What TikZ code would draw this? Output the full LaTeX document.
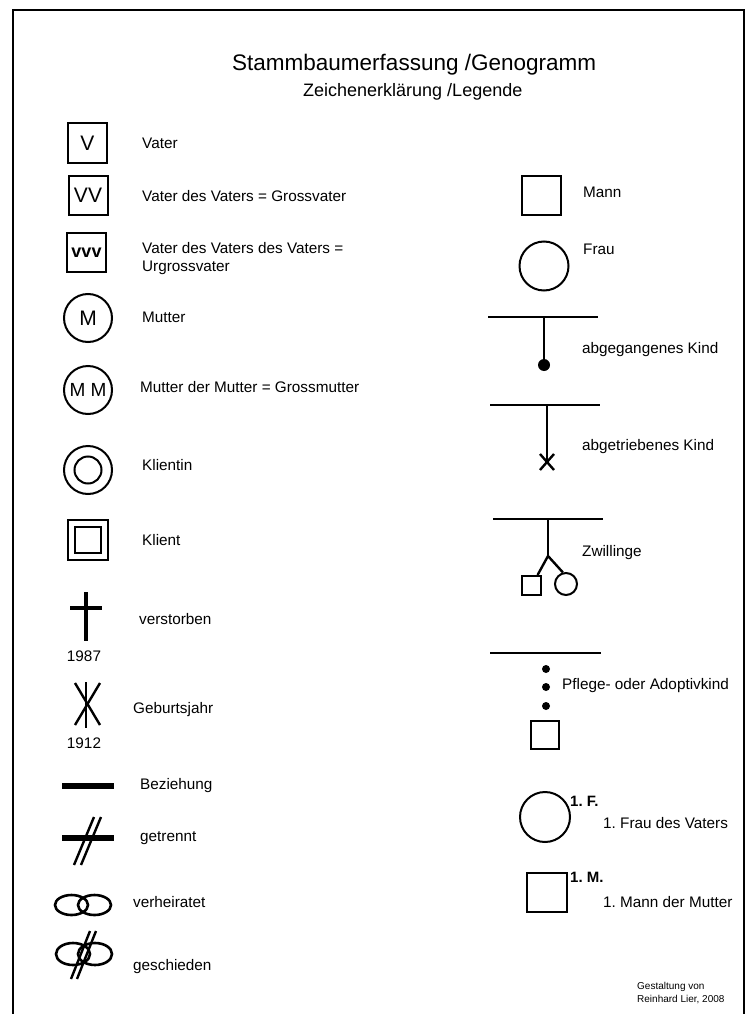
\documentclass[tikz,border=0pt]{standalone}
\usepackage{fontspec}
\setmainfont{Liberation Sans}
\usetikzlibrary{shapes.geometric}
\frenchspacing
\begin{document}
\begin{tikzpicture}[x=1pt, y=-1pt,
  box/.style={draw, rectangle, line width=2pt, inner sep=0pt, minimum size=39pt},
  ring/.style={draw, circle, line width=2pt, inner sep=0pt, minimum size=48pt},
  oval/.style={draw, ellipse, line width=2.6pt, inner sep=0pt, minimum width=33pt, minimum height=20pt},
  kdot/.style={fill, circle, inner sep=0pt, minimum size=#1},
  lbl/.style={anchor=base west, inner sep=0pt, font=\fontsize{15.3}{17.5}\selectfont},
  sym/.style={inner sep=0pt, font=\fontsize{21}{21}\selectfont},
  line/.style={line width=2.4pt},
  rel/.style={line width=6pt}]
\useasboundingbox (0,0) rectangle (746,1014);
\draw[line width=2.2pt] (13,1014) -- (13,10) -- (744,10) -- (744,1014);

\node[anchor=base west, inner sep=0pt, font=\fontsize{22.5}{22.5}\selectfont] (titel) at (232,71) {Stammbaumerfassung /Genogramm};
\node[anchor=base west, inner sep=0pt, font=\fontsize{18}{18}\selectfont] (untertitel) at (303,97) {Zeichenerklärung /Legende};

% linke Spalte
\node[box] (V)   at (87.5,143) {};
\node[sym] at (V) {V};
\node[lbl] (tV)  at (142,148.5) {Vater};
\node[box] (VV)  at (88,195) {};
\node[sym] at (VV) {VV};
\node[lbl] (tVV) at (142,201.5) {Vater des Vaters = Grossvater};
\node[box] (VVV) at (86.5,252.5) {};
\node[sym, font=\fontsize{18}{18}\selectfont\bfseries] at (VVV) {vvv};
\node[lbl, align=left] (tVVV) at (142,271) {Vater des Vaters des Vaters =\\Urgrossvater};

\node[ring] (M)  at (88,318) {};
\node[sym] at (M) {M};
\node[lbl] (tM)  at (142,322.5) {Mutter};
\node[ring] (MM) at (88,390) {};
\node[sym, font=\fontsize{19}{19}\selectfont] at (MM) {M M};
\node[lbl] (tMM) at (140,392.5) {Mutter der Mutter = Grossmutter};

\node[ring] (KI) at (88,470) {};
\node[ring, minimum size=27pt] (KIi) at (KI) {};
\node[lbl] (tKI) at (142,470.5) {Klientin};
\node[box, minimum size=40pt] (KL) at (88,540) {};
\node[box, minimum size=26pt] (KLi) at (KL) {};
\node[lbl] (tKL) at (142,545.5) {Klient};

\coordinate (kr1) at (86,592);
\coordinate (kr2) at (86,641);
\coordinate (kr3) at (70,608);
\coordinate (kr4) at (102,608);
\draw[line width=4.6pt] (kr1) -- (kr2);
\draw[line width=4.6pt] (kr3) -- (kr4);
\node[lbl] (tTod) at (139,624.5) {verstorben};
\node[lbl, anchor=base] (jTod) at (84,661) {1987};

\coordinate (gb1) at (86,682);
\coordinate (gb2) at (86,728);
\coordinate (gb3) at (75,683);
\coordinate (gb4) at (100,725);
\coordinate (gb5) at (100,683);
\coordinate (gb6) at (75,725);
\draw[line] (gb1) -- (gb2);
\draw[line] (gb3) -- (gb4);
\draw[line] (gb5) -- (gb6);
\node[lbl] (tGeb) at (133,713.5) {Geburtsjahr};
\node[lbl, anchor=base] (jGeb) at (84,748.5) {1912};

\coordinate (bz1) at (62,786);
\coordinate (bz2) at (114,786);
\draw[rel] (bz1) -- (bz2);
\node[lbl] (tBz) at (140,789.5) {Beziehung};

\coordinate (gt1) at (62,838);
\coordinate (gt2) at (114,838);
\coordinate (gt3) at (74,865);
\coordinate (gt4) at (94,817);
\coordinate (gt5) at (81,865);
\coordinate (gt6) at (101,817);
\draw[rel] (gt1) -- (gt2);
\draw[line] (gt3) -- (gt4);
\draw[line] (gt5) -- (gt6);
\node[lbl] (tGt) at (140,841.5) {getrennt};

\node[oval] (vh1) at (71.5,905) {};
\node[oval] (vh2) at (94.5,905) {};
\node[lbl] (tVh) at (133,907.5) {verheiratet};

\node[oval, minimum width=34pt, minimum height=22pt] (gs1) at (73,954) {};
\node[oval, minimum width=34pt, minimum height=22pt] (gs2) at (95,954) {};
\coordinate (gs3) at (71,979);
\coordinate (gs4) at (90,931);
\coordinate (gs5) at (77,979);
\coordinate (gs6) at (96,931);
\draw[line] (gs3) -- (gs4);
\draw[line] (gs5) -- (gs6);
\node[lbl] (tGs) at (133,970.5) {geschieden};

% rechte Spalte
\node[box] (Mann) at (541.5,195) {};
\node[lbl] (tMann) at (583,197.5) {Mann};
\node[ring, minimum size=49pt] (Frau) at (544,266) {};
\node[lbl] (tFrau) at (583,254.5) {Frau};

\coordinate (ab1) at (488,317);
\coordinate (ab2) at (598,317);
\coordinate (ab3) at (544,317);
\node[kdot=12pt] (abK) at (544,365) {};
\draw[line] (ab1) -- (ab2);
\draw[line] (ab3) -- (abK);
\node[lbl] (tAb) at (582,353.5) {abgegangenes Kind};

\coordinate (at1) at (490,405);
\coordinate (at2) at (600,405);
\coordinate (at3) at (547,405);
\coordinate (atK) at (547,462);
\coordinate (atx1) at (540,454);
\coordinate (atx2) at (554,470);
\coordinate (atx3) at (554,454);
\coordinate (atx4) at (540,470);
\draw[line] (at1) -- (at2);
\draw[line] (at3) -- (atK);
\draw[line] (atx1) -- (atx2);
\draw[line] (atx3) -- (atx4);
\node[lbl] (tAt) at (582,450.5) {abgetriebenes Kind};

\coordinate (zw1) at (493,519);
\coordinate (zw2) at (603,519);
\coordinate (zw3) at (548,519);
\coordinate (zwG) at (548,556);
\node[box, minimum size=19pt] (zwS) at (531.5,585.5) {};
\node[ring, minimum size=22pt] (zwC) at (566,584) {};
\draw[line] (zw1) -- (zw2);
\draw[line] (zw3) -- (zwG);
\draw[line] (zwG) -- (zwS.60);
\draw[line] (zwG) -- (zwC.105);
\node[lbl] (tZw) at (582,556.5) {Zwillinge};

\coordinate (pf1) at (490,653);
\coordinate (pf2) at (601,653);
\draw[line] (pf1) -- (pf2);
\foreach \y in {669,687,706}
  \node[kdot=8pt] (pf\y) at (546,\y) {};
\node[box, minimum size=28pt] (pfK) at (545,735) {};
\node[lbl] (tPf) at (562,689.5) {Pflege- oder Adoptivkind};

\node[ring, minimum size=50pt] (F1) at (545,817) {};
\node[lbl, font=\fontsize{15}{15}\selectfont\bfseries] (F1n) at (570,806.5) {1. F.};
\node[lbl] (tF1) at (603,828.5) {1. Frau des Vaters};
\node[box, minimum size=39.5pt] (M1) at (547,892.5) {};
\node[lbl, font=\fontsize{15}{15}\selectfont\bfseries] (M1n) at (570,882.5) {1. M.};
\node[lbl] (tM1) at (603,907.5) {1. Mann der Mutter};

\node[lbl, align=left, font=\fontsize{10}{13}\selectfont] (gest) at (637,1002) {Gestaltung von\\Reinhard Lier, 2008};
\end{tikzpicture}
\end{document}
